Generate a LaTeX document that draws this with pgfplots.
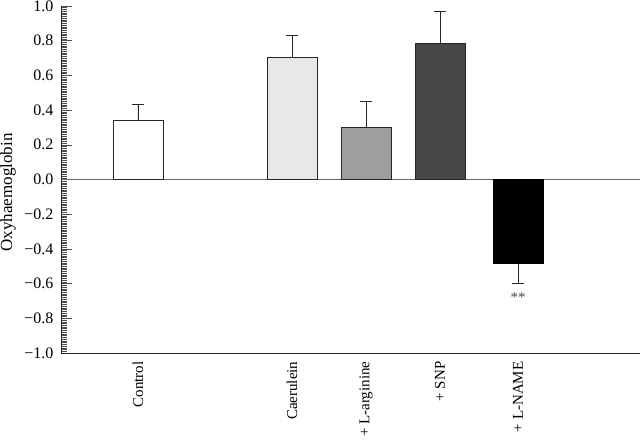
\documentclass[border=0pt]{standalone}
\usepackage{fontspec}
\setmainfont{Liberation Serif}
\usepackage{pgfplots}
\pgfplotsset{compat=1.18}
\begin{document}
\begin{tikzpicture}
\begin{axis}[
  scale only axis,
  width=579pt, height=347pt,
  xmin=61, xmax=640,
  ymin=-1, ymax=1,
  axis x line*=bottom,
  axis y line*=left,
  axis line style={line width=0.8pt, draw=black!85},
  font=\fontsize{16}{19}\selectfont,
  xtick={138,292,366,440,518},
  xticklabels={Control,Caerulein,+ L-arginine,+ SNP,+ L-NAME},
  x tick label style={rotate=90, anchor=east, xshift=-5pt, font=\fontsize{15}{18}\selectfont},
  major x tick style={draw=none},
  ytick={-1,-0.8,-0.6,-0.4,-0.2,0,0.2,0.4,0.6,0.8,1},
  yticklabels={−1.0,−0.8,−0.6,−0.4,−0.2,0.0,0.2,0.4,0.6,0.8,1.0},
  y tick label style={xshift=-4pt},
  minor y tick num=19,
  tick align=inside,
  major tick length=11pt,
  minor tick length=6pt,
  y tick style={line width=0.5pt, draw=black!70},
  ylabel={Oxyhaemoglobin},
  ylabel style={at={(axis description cs:-0.0915,0.463)}, anchor=center, font=\fontsize{17}{20}\selectfont},
  bar width=50,
  clip=false,
  every axis plot/.append style={ybar, bar shift=0pt, bar width=50, line width=0.7pt},
]
\draw[black!60, line width=0.8pt] (axis cs:61,0) -- (axis cs:640,0);
\addplot[fill=white, draw=black!85,
  error bars/.cd, y dir=plus, y explicit, error bar style={line width=0.7pt, black!85}, error mark options={rotate=90, mark size=6pt, line width=0.7pt, black!85}]
  coordinates {(138,0.338) +- (0,0.097)};
\addplot[fill=black!9, draw=black!85,
  error bars/.cd, y dir=plus, y explicit, error bar style={line width=0.7pt, black!85}, error mark options={rotate=90, mark size=6pt, line width=0.7pt, black!85}]
  coordinates {(292,0.705) +- (0,0.125)};
\addplot[fill=black!38, draw=black!85,
  error bars/.cd, y dir=plus, y explicit, error bar style={line width=0.7pt, black!85}, error mark options={rotate=90, mark size=6pt, line width=0.7pt, black!85}]
  coordinates {(366,0.300) +- (0,0.148)};
\addplot[fill=black!72, draw=black!85,
  error bars/.cd, y dir=plus, y explicit, error bar style={line width=0.7pt, black!85}, error mark options={rotate=90, mark size=6pt, line width=0.7pt, black!85}]
  coordinates {(440,0.782) +- (0,0.186)};
\addplot[fill=black, draw=black,
  error bars/.cd, y dir=minus, y explicit, error bar style={line width=0.7pt, black!85}, error mark options={rotate=90, mark size=6pt, line width=0.7pt, black!85}]
  coordinates {(518,-0.486) +- (0,0.11)};
\node[font=\fontsize{15}{17}\selectfont, black!70] at (axis cs:518,-0.68) {**};
\end{axis}
\pgfresetboundingbox
\path ([xshift=-61pt,yshift=-92pt]current axis.south west) rectangle ([yshift=6pt]current axis.north east);
\end{tikzpicture}
\end{document}
